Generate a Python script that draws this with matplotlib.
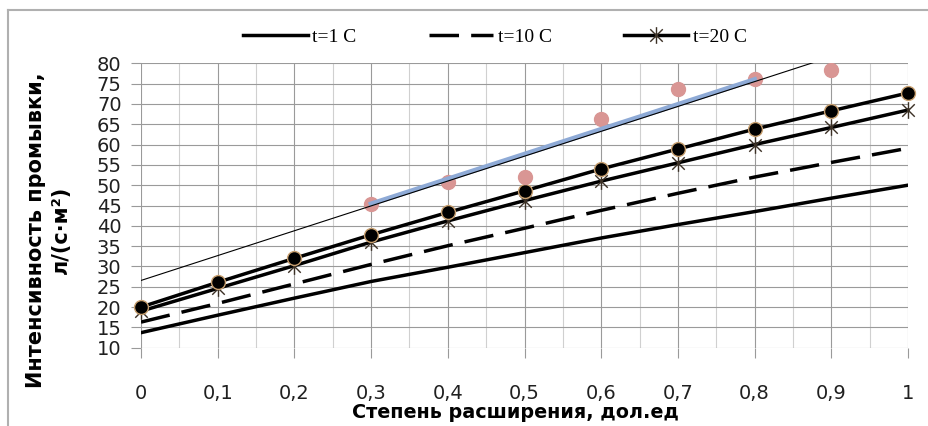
import matplotlib
matplotlib.use('Agg')
import matplotlib.pyplot as plt
from matplotlib.lines import Line2D
from matplotlib.path import Path
import numpy as np

# Степень расширения
x = [0, 0.1, 0.2, 0.3, 0.4, 0.5, 0.6, 0.7, 0.8, 0.9, 1.0]
# расчетные кривые
t1 = [13.7, 18.0, 22.2, 26.3, 29.8, 33.4, 37.0, 40.3, 43.5, 46.8, 50.0]
t10 = [16.3, 20.9, 25.7, 30.5, 35.1, 39.4, 43.8, 48.0, 52.0, 55.6, 59.1]
t20 = [19.0, 24.6, 30.2, 36.0, 41.2, 46.2, 51.0, 55.5, 60.0, 64.2, 68.5]
black_pts = [20.0, 26.1, 32.0, 37.8, 43.3, 48.6, 54.0, 58.9, 63.8, 68.3, 72.7]
# опытные точки
pink_x = [0.3, 0.4, 0.5, 0.6, 0.7, 0.8, 0.9]
pink_y = [45.4, 50.9, 51.9, 66.4, 73.6, 76.2, 78.4]
blue_x = [0.3, 0.8]
blue_y = [45.4, 76.0]

legend_labels = ['t=1 C', 't=10 C', 't=20 C']
x_ticks = [0, 0.1, 0.2, 0.3, 0.4, 0.5, 0.6, 0.7, 0.8, 0.9, 1.0]
x_tick_labels = ['0', '0,1', '0,2', '0,3', '0,4', '0,5', '0,6', '0,7', '0,8', '0,9', '1']

# Excel-like star: vertical line plus a cross
STAR = Path([(0, -1), (0, 1), (-0.75, -0.75), (0.75, 0.75),
             (-0.75, 0.75), (0.75, -0.75)],
            [Path.MOVETO, Path.LINETO, Path.MOVETO, Path.LINETO,
             Path.MOVETO, Path.LINETO])


def main():
    """Draw the wash intensity chart"""
    plt.rcParams['font.family'] = ['DejaVu Sans']
    fig = plt.figure(figsize=(9.29, 4.26), dpi=100)
    ax = fig.add_axes([141 / 929, 1 - 347.7 / 426, 767 / 929, 284.4 / 426])

    # grid like Excel
    ax.set_xlim(0, 1)
    ax.set_ylim(10, 80)
    ax.set_xticks(x_ticks)
    ax.set_xticklabels(x_tick_labels)
    ax.set_xticks(np.arange(0.05, 1, 0.1), minor=True)
    ax.set_yticks(np.arange(10, 81, 5))
    ax.grid(which='major', axis='both', color='#9a9a9a', lw=0.8)
    ax.grid(which='minor', axis='x', color='#d0d0d0', lw=0.8)
    ax.tick_params(axis='x', which='major', length=7, color='#9a9a9a',
                   labelsize=14, pad=19, labelcolor='#202020')
    ax.tick_params(axis='x', which='minor', length=0)
    ax.tick_params(axis='y', length=7, color='#9a9a9a', labelsize=14,
                   pad=7, labelcolor='#202020')
    for s in ax.spines.values():
        s.set_visible(False)
    ax.set_axisbelow(True)

    lw = 2.5
    ax.plot(x, t1, color='black', lw=lw, zorder=3)
    ax.plot(x, t10, color='black', lw=lw, dashes=(8.5, 3.5), zorder=3)
    ax.plot(x, t20, color='black', lw=lw, marker=STAR, ms=12,
            mec='#3b3025', mew=1, zorder=3, clip_on=False)
    ax.plot(x, black_pts, color='black', lw=lw, marker='o', ms=10,
            mfc='black', mec='#c8a070', mew=1, zorder=4, clip_on=False)
    ax.plot(pink_x, pink_y, ls='none', marker='o', ms=10,
            mfc='#d99694', mec='#d99694', zorder=5)
    ax.plot(blue_x, blue_y, color='#8eaad6', lw=3.5, zorder=6)
    # linear trend of the pink points
    k, b = np.polyfit(pink_x, pink_y, 1)
    ax.plot([0, 1], [b, k + b], color='black', lw=0.8, zorder=7)

    # legend only for three curves
    handles = [
        Line2D([], [], color='black', lw=lw),
        Line2D([], [], color='black', lw=lw, dashes=(8.5, 3.5)),
        Line2D([], [], color='black', lw=lw, marker=STAR, ms=12,
               mec='#3b3025', mew=1),
    ]
    fig.legend(handles, legend_labels, loc='center',
               bbox_to_anchor=(495 / 929, 1 - 37 / 426), ncol=3,
               frameon=False, handlelength=3.3, handletextpad=0.25,
               columnspacing=3.7, numpoints=1,
               prop={'family': 'Liberation Serif', 'size': 14})

    fig.text(48 / 929, 1 - 230 / 426,
             'Интенсивность промывки,\nл/(с·м²)', rotation=90,
             ha='center', va='center', multialignment='center',
             fontsize=15, fontweight='bold', linespacing=1.3)
    fig.text(515 / 929, 1 - 412 / 426, 'Степень расширения, дол.ед',
             ha='center', va='center', fontsize=13.8, fontweight='bold')

    # chart frame
    fig.add_artist(Line2D([8 / 929, 8 / 929], [0, 1 - 10 / 426],
                          color='#b0b0b0', lw=1.5))
    fig.add_artist(Line2D([8 / 929, 1], [1 - 10 / 426, 1 - 10 / 426],
                          color='#b0b0b0', lw=1.5))

    fig.savefig('out.png', dpi=100)


if __name__ == "__main__":
    main()
